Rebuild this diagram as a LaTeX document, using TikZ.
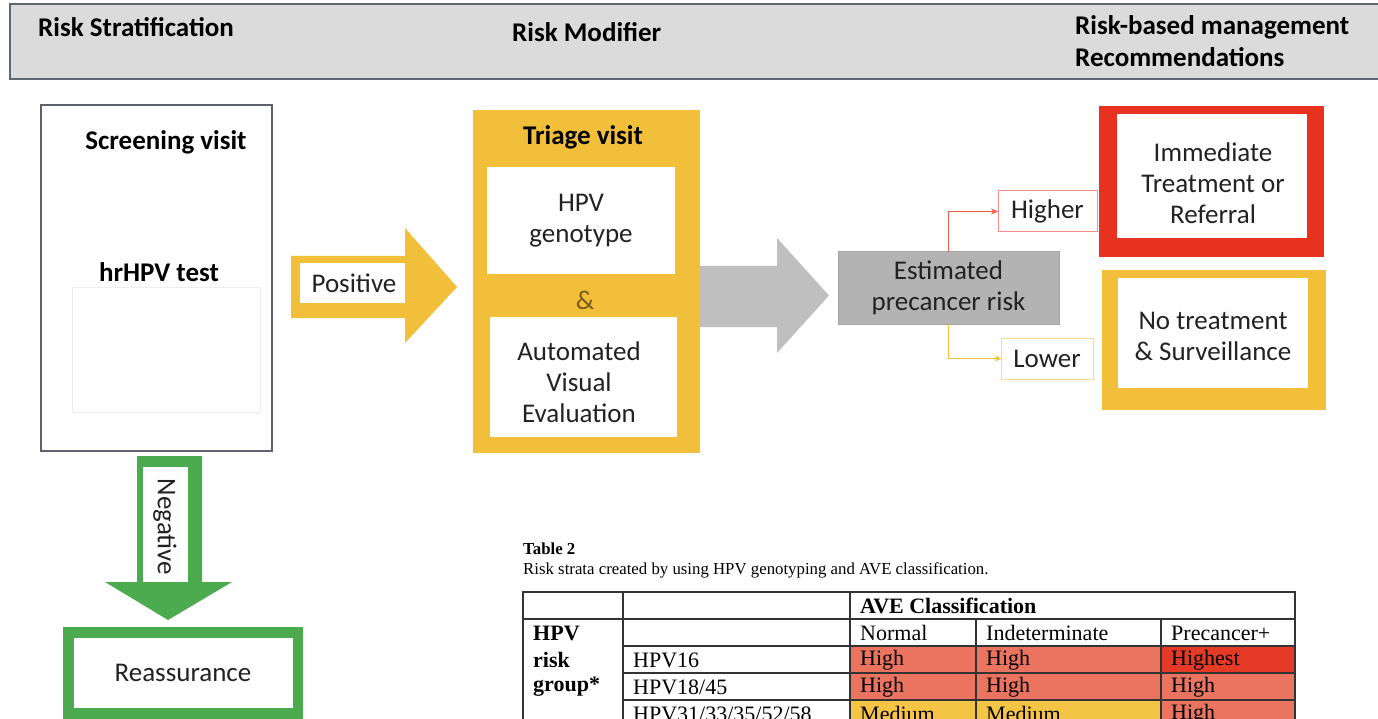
\documentclass[tikz,border=0pt]{standalone}
\usepackage{fontspec}
\setmainfont{Carlito}
\newfontfamily\tabfont{Liberation Serif}
\usetikzlibrary{arrows.meta}
\definecolor{hdrfill}{HTML}{DBDBDB}
\definecolor{hdrline}{HTML}{5F6670}
\definecolor{boxline}{HTML}{5E6270}
\definecolor{gold}{HTML}{F2BF3A}
\definecolor{grayarrow}{HTML}{BFBFBF}
\definecolor{estfill}{HTML}{B3B3B3}
\definecolor{estline}{HTML}{A3A3A3}
\definecolor{redbox}{HTML}{E8311F}
\definecolor{greenbox}{HTML}{4CAA4F}
\definecolor{salmon}{HTML}{EA7460}
\definecolor{hired}{HTML}{E43A26}
\definecolor{medyel}{HTML}{F4C444}
\definecolor{txtcol}{HTML}{222222}
\definecolor{ampcol}{HTML}{7A5C1E}
\begin{document}
\begin{tikzpicture}[x=1pt,y=-1pt,
  txt/.style={inner sep=0pt, text=txtcol, align=center, font=\fontsize{27}{31}\selectfont},
  hd/.style={inner sep=0pt, text=black, font=\fontsize{27}{31}\selectfont\bfseries},
  plainbox/.style={inner sep=0pt, outer sep=0pt},
  tcell/.style={inner sep=0pt, anchor=west, text=black, font=\tabfont\fontsize{22}{24}\selectfont},
  tbold/.style={tcell, font=\tabfont\fontsize{22}{24}\selectfont\bfseries},
  tline/.style={draw=black!80, line width=1.2pt}
]
\useasboundingbox (0,0) rectangle (1378,719);
\clip (0,0) rectangle (1378,719);

% header band
\node[plainbox, fill=hdrfill, draw=hdrline, line width=2pt, minimum width=1382pt, minimum height=75pt] (header) at (701,41.5) {};
\node[hd, anchor=west] (hstrat) at (38,27) {Risk Stratification};
\node[hd, anchor=west] (hmod) at (512,32) {Risk Modifier};
\node[hd, anchor=west] (hman1) at (1075,27) {Risk-based management};
\node[hd, anchor=west] (hman2) at (1075,57) {Recommendations};

% screening box
\node[plainbox, draw=boxline, line width=1.6pt, fill=white, minimum width=231pt, minimum height=346pt] (screen) at (156.5,278) {};
\node[hd] (screent) at (166,142) {Screening visit};
\node[hd] (hrhpv) at (159,272) {hrHPV test};
\node[plainbox, draw=black!7, line width=0.8pt, minimum width=188pt, minimum height=125pt] (inner) at (166,349.5) {};

% positive arrow
\fill[gold] (291,256) -- (405,256) -- (405,228) -- (457,287) -- (405,343) -- (405,318) -- (291,318) -- cycle;
\node[plainbox, fill=white, minimum width=105pt, minimum height=40pt] (posbox) at (352.5,283) {};
\node[txt] (pos) at (354,283) {Positive};

% triage
\node[plainbox, fill=gold, minimum width=227pt, minimum height=343pt] (triage) at (586.5,281.5) {};
\node[hd] (triaget) at (583,137) {Triage visit};
\node[plainbox, fill=white, minimum width=188pt, minimum height=107pt] (geno) at (581,220.5) {};
\node[txt] (genot) at (581,221) {HPV\\genotype};
\node[txt, text=ampcol] (amp) at (585,300) {\&};
\node[plainbox, fill=white, minimum width=187pt, minimum height=120pt] (ave) at (583.5,377) {};
\node[txt] (avet) at (579,382) {Automated\\Visual\\Evaluation};

% gray arrow
\fill[grayarrow] (700,266) -- (777,266) -- (777,238) -- (829,295.5) -- (777,353) -- (777,327) -- (700,327) -- cycle;

% estimated risk
\node[plainbox, fill=estfill, draw=estline, line width=1pt, minimum width=221pt, minimum height=72pt] (est) at (948.5,288) {};
\node[txt] (estt) at (948.5,288) {Estimated\\precancer risk};

% higher / lower
\node[plainbox, draw=redbox!55, line width=1pt, fill=white, minimum width=99pt, minimum height=41pt] (higher) at (1047.5,211.5) {};
\node[txt] (highert) at (1047.5,211.5) {Higher};
\node[plainbox, draw=gold!60, line width=1pt, fill=white, minimum width=92pt, minimum height=41pt] (lower) at (1047,358.5) {};
\node[txt] (lowert) at (1047,358.5) {Lower};
\draw[redbox!80, line width=0.9pt, -{Stealth[length=7pt,width=6pt]}] (est.north) |- (higher.west);
\draw[gold, line width=0.9pt, -{Stealth[length=6pt,width=6pt]}] (est.south) |- (lower.west);

% outcome boxes
\node[plainbox, fill=redbox, minimum width=225pt, minimum height=151pt] (immo) at (1211.5,181.5) {};
\node[plainbox, fill=white, minimum width=190pt, minimum height=124pt] (immi) at (1212,176) {};
\node[txt] (immt) at (1213,183) {Immediate\\Treatment or\\Referral};
\node[plainbox, fill=gold, minimum width=224pt, minimum height=140pt] (noto) at (1214,340) {};
\node[plainbox, fill=white, minimum width=190pt, minimum height=110pt] (noti) at (1213,333) {};
\node[txt] (nott) at (1213,336) {No treatment\\\& Surveillance};

% negative arrow
\fill[greenbox] (137,456) -- (202,456) -- (202,582) -- (232,582) -- (168,620) -- (105,582) -- (137,582) -- cycle;
\node[plainbox, fill=white, minimum width=45pt, minimum height=115pt] (negbox) at (165.5,524.5) {};
\node[txt, rotate=-90] (neg) at (165,527) {Negative};

% reassurance
\node[plainbox, fill=greenbox, minimum width=240pt, minimum height=100pt] (reo) at (183,677) {};
\node[plainbox, fill=white, minimum width=219pt, minimum height=70pt] (rei) at (183.5,673) {};
\node[txt] (ret) at (183,673) {Reassurance};

% table caption
\node[tbold, font=\tabfont\fontsize{16.8}{18}\selectfont\bfseries] (tab2) at (523,549) {Table 2};
\node[tcell, font=\tabfont\fontsize{16.8}{18}\selectfont] (tabcap) at (523,570) {Risk strata created by using HPV genotyping and AVE classification.};

% table fills
\fill[salmon] (850,646) rectangle (1161,700);
\fill[hired] (1161,646) rectangle (1295,673);
\fill[salmon] (1161,673) rectangle (1295,727);
\fill[medyel] (850,700) rectangle (1161,727);
% table lines
\draw[tline] (523,727) -- (523,592) -- (1295,592) -- (1295,727);
\draw[tline] (523,619) -- (1295,619);
\draw[tline] (623,646) -- (1295,646);
\draw[tline] (623,673) -- (1295,673);
\draw[tline] (623,700) -- (1295,700);
\draw[tline] (623,592) -- (623,727);
\draw[tline] (850,592) -- (850,727);
\draw[tline] (976,619) -- (976,727);
\draw[tline] (1161,619) -- (1161,727);
% table text
\node[tbold] (c13) at (860,606) {AVE Classification};
\node[tbold] (c21) at (533,633) {HPV};
\node[tbold] (c31) at (533,660) {risk};
\node[tbold] (c41) at (533,687) {group*};
\node[tcell] (c23) at (860,633) {Normal};
\node[tcell] (c24) at (986,633) {Indeterminate};
\node[tcell] (c25) at (1171,633) {Precancer+};
\node[tcell] (c32) at (633,660) {HPV16};
\node[tcell] (c33) at (860,660) {High};
\node[tcell] (c34) at (986,660) {High};
\node[tcell] (c35) at (1171,660) {Highest};
\node[tcell] (c42) at (633,687) {HPV18/45};
\node[tcell] (c43) at (860,687) {High};
\node[tcell] (c44) at (986,687) {High};
\node[tcell] (c45) at (1171,687) {High};
\node[tcell] (c52) at (633,714) {HPV31/33/35/52/58};
\node[tcell] (c53) at (860,714) {Medium};
\node[tcell] (c54) at (986,714) {Medium};
\node[tcell] (c55) at (1171,714) {High};
\end{tikzpicture}
\end{document}
